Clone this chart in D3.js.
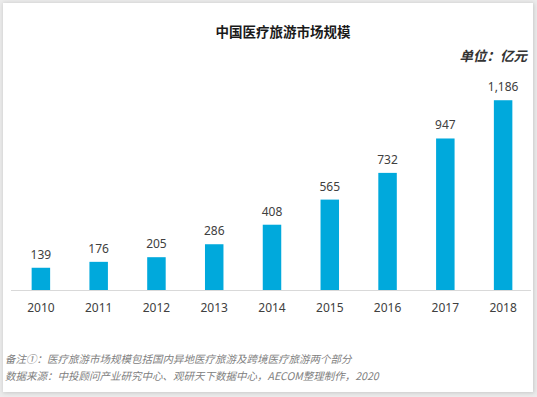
<!DOCTYPE html>
<html>
<head>
<meta charset="utf-8">
<script src="https://cdn.jsdelivr.net/npm/d3@7"></script>
<style>
  body { margin: 0; background: #e6e6e6; }
  svg { display: block; }
</style>
</head>
<body>
<div id="canvas"></div>
<script>
"use strict"

/* chart data */
let years = ["2010", "2011", "2012", "2013", "2014", "2015", "2016", "2017", "2018"];
let marketSize = [139, 176, 205, 286, 408, 565, 732, 947, 1186];
let valueLabels = ["139", "176", "205", "286", "408", "565", "732", "947", "1,186"];

let titleText = "中国医疗旅游市场规模";
let unitText = "单位：亿元";
let noteLines = [
    "备注①：医疗旅游市场规模包括国内异地医疗旅游及跨境医疗旅游两个部分",
    "数据来源：中投顾问产业研究中心、观研天下数据中心，AECOM整理制作，2020"
];

let drawing = d3.select("#canvas")
    .append("svg")
    .attr("width", 537)
    .attr("height", 397);

/* soft shadow round the white card */
let defs = drawing.append("defs");
let blur = defs.append("filter").attr("id", "shade")
    .attr("x", "-5%").attr("y", "-5%").attr("width", "110%").attr("height", "110%");
blur.append("feGaussianBlur").attr("stdDeviation", 2);

drawing.append("rect")
    .attr("x", 0).attr("y", 0).attr("width", 537).attr("height", 397)
    .attr("fill", "#ececec");

drawing.append("rect")
    .attr("x", 3).attr("y", 3).attr("width", 531).attr("height", 390)
    .attr("fill", "#c8c8c8")
    .attr("filter", "url(#shade)");

let card = drawing.append("rect")
    .attr("x", 3).attr("y", 3).attr("width", 530).attr("height", 389)
    .attr("fill", "white");

/* scales */
let x = d3.scaleBand()
    .domain(years)
    .range([12, 532])
    .paddingInner(0.68)
    .paddingOuter(0.34);

let y = d3.scaleLinear()
    .domain([0, 1250])
    .range([290, 90]);

let cjk = "'Noto Sans CJK SC', 'Noto Sans', sans-serif";
let num = "'Noto Sans', 'DejaVu Sans', sans-serif";

/* title and unit */
drawing.append("text")
    .attr("x", 283).attr("y", 37)
    .attr("text-anchor", "middle")
    .attr("font-family", cjk)
    .attr("font-size", 13.5)
    .attr("font-weight", "bold")
    .attr("fill", "#1a1a1a")
    .text(titleText);

drawing.append("text")
    .attr("x", 527).attr("y", 61)
    .attr("text-anchor", "end")
    .attr("font-family", cjk)
    .attr("font-size", 13.5)
    .attr("font-style", "italic")
    .attr("font-weight", "bold")
    .attr("fill", "#333")
    .text(unitText);

/* bars */
let rows = years.map((yr, i) => ({ year: yr, value: marketSize[i], label: valueLabels[i] }));

drawing.append("g").selectAll("rect")
    .data(rows)
    .join("rect")
    .attr("x", d => x(d.year))
    .attr("y", d => y(d.value))
    .attr("width", x.bandwidth())
    .attr("height", d => y(0) - y(d.value))
    .attr("fill", "#00a9dc");

/* value labels */
drawing.append("g").selectAll("text")
    .data(rows)
    .join("text")
    .attr("x", d => x(d.year) + x.bandwidth() / 2)
    .attr("y", d => y(d.value) - 9)
    .attr("text-anchor", "middle")
    .attr("font-family", num)
    .attr("font-size", 12)
    .attr("fill", "#404040")
    .text(d => d.label);

/* category axis */
let xAxis = drawing.append("g")
    .attr("transform", "translate(0," + y(0) + ")")
    .call(d3.axisBottom(x).tickSize(0).tickPadding(13));

xAxis.select(".domain")
    .attr("d", "M11,0.5H531")
    .attr("stroke", "#d9d9d9");

xAxis.selectAll("text")
    .attr("font-family", num)
    .attr("font-size", 12)
    .attr("fill", "#404040");

/* footnotes */
drawing.append("g").selectAll("text")
    .data(noteLines)
    .join("text")
    .attr("x", 5)
    .attr("y", (d, i) => 363 + i * 17)
    .attr("font-family", cjk)
    .attr("font-size", 10.5)
    .attr("font-style", "italic")
    .attr("fill", "#808080")
    .text(d => d);
</script>
</body>
</html>
